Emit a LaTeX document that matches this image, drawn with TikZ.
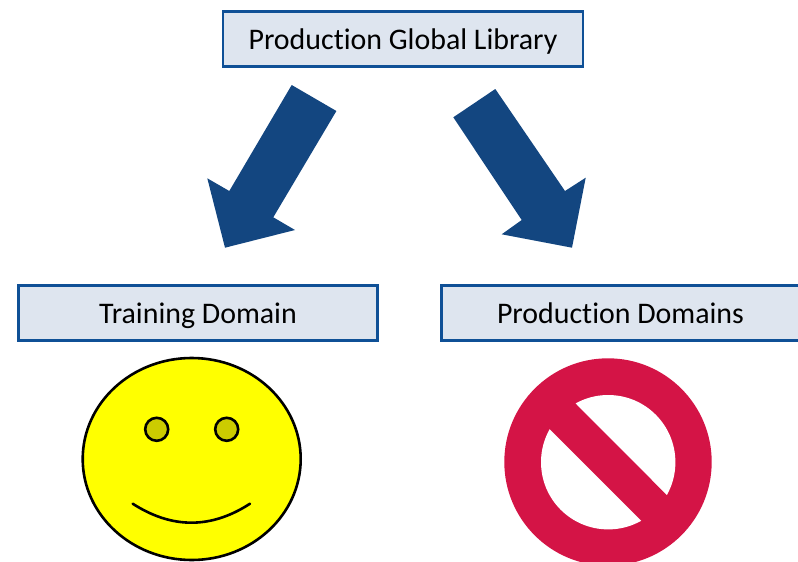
\documentclass[tikz,border=0pt]{standalone}
\usepackage{fontspec}
\setmainfont[RawFeature={-liga}]{Carlito}
\definecolor{boxfill}{HTML}{DEE5EF}
\definecolor{boxline}{HTML}{0F5096}
\definecolor{arrowblue}{HTML}{134680}
\definecolor{nored}{HTML}{D41446}
\definecolor{eyecol}{HTML}{CCCC00}
\definecolor{faceyellow}{RGB}{255,255,0}
\tikzset{
  lbl/.style={draw=boxline,fill=boxfill,line width=2.2pt,minimum height=55pt,inner sep=0pt,text=black,font=\fontsize{29.9}{32}\selectfont,text height=27pt,text depth=5.5pt,anchor=center},
  blockarrow/.style={fill=arrowblue,draw=none},
  face/.style={draw=black,line width=2.6pt,line cap=round}
}
\begin{document}
\begin{tikzpicture}[x=1pt,y=-1pt]
\useasboundingbox (0,0) rectangle (798,562);
\node[lbl,minimum width=359.5pt] (global) at (403,39) {Production Global Library};
\node[lbl,minimum width=359pt] (training) at (198,313) {Training Domain};
\node[lbl,minimum width=358pt] (prod) at (620.5,313) {Production Domains};
\fill[blockarrow] (291.7,85) -- (336.4,111) -- (273.3,217.3) -- (295,230) -- (225,247.7) -- (207.3,178.3) -- (229.3,191) -- cycle;
\fill[blockarrow] (495.3,89) -- (453.3,117.3) -- (521.7,220) -- (501.7,234.3) -- (572,247.7) -- (585.7,177.7) -- (565,191) -- cycle;
\draw[face,fill=faceyellow] (191.7,459) ellipse [x radius=109,y radius=101];
\draw[face,fill=eyecol] (156.7,429.3) circle [radius=11.5];
\draw[face,fill=eyecol] (226.7,429.3) circle [radius=11.5];
\draw[face] (132.7,503.7) .. controls (172,529) and (211,529) .. (250,503.7);
\fill[nored] (608,462) circle [radius=103.7];
\fill[white] (608.2,462.2) circle [radius=67.2];
\fill[nored] (576,404) -- (666,494.3) -- (690,518) -- (665,545) -- (641,520.3) -- (550,429.3) -- (525,405) -- (552,380) -- cycle;
\end{tikzpicture}
\end{document}
